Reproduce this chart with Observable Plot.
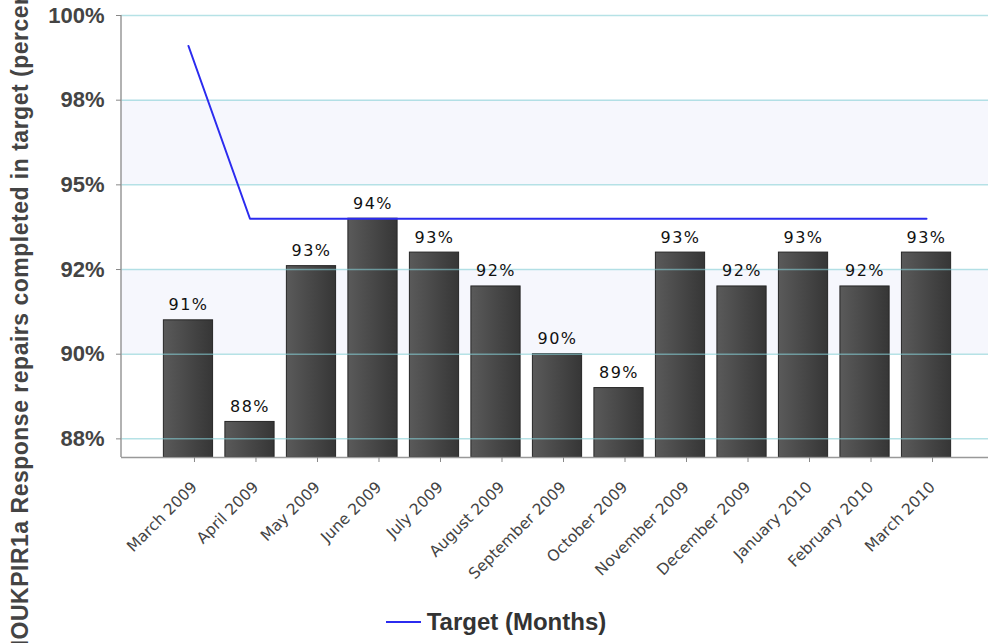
<!DOCTYPE html>
<html>
<head>
<meta charset="utf-8">
<script src="https://cdn.jsdelivr.net/npm/d3@7"></script>
<script src="https://cdn.jsdelivr.net/npm/@observablehq/plot@0.6"></script>
<style>
  html, body { margin: 0; padding: 0; background: #fff; overflow: hidden; }
  #chart svg { overflow: visible; }
  .legend {
    display: flex; align-items: center; justify-content: center;
    height: 43px; padding-left: 4px;
    font: bold 24px "Liberation Sans", Arial, sans-serif; color: #333;
  }
  .legend .swatch { width: 35px; height: 0; border-top: 2px solid #2b2bef; margin-right: 6px; }
</style>
</head>
<body>
<div id="chart"></div>
<script>
// Monthly response repairs completed within target, March 2009 – March 2010
const months = [
  "March 2009", "April 2009", "May 2009", "June 2009", "July 2009",
  "August 2009", "September 2009", "October 2009", "November 2009",
  "December 2009", "January 2010", "February 2010", "March 2010"
];
const responsePct = [91, 88, 92.6, 94, 93, 92, 90, 89, 93, 92, 93, 92, 93];
const targetPct = [99.1, 94, 94, 94, 94, 94, 94, 94, 94, 94, 94, 94, 94];

const yTicks = [87.5, 90, 92.5, 95, 97.5, 100];
const yTickLabels = ["88%", "90%", "92%", "95%", "98%", "100%"];
const yDomain = [86.95, 100];
const shadedBands = [[90, 92.5], [95, 97.5]];

const yTitle = "HOUKPIR1a Response repairs completed in target (percent)";
const legendLabel = "Target (Months)";

const rows = months.map((month, i) => ({month, pct: responsePct[i], target: targetPct[i]}));

// horizontal shading for the bars
function barShadeDefs() {
  const defs = d3.create("svg:defs");
  const g = defs.append("linearGradient")
    .attr("id", "barShade").attr("x1", "0").attr("x2", "1").attr("y1", "0").attr("y2", "0");
  g.append("stop").attr("offset", "0%").attr("stop-color", "#5a5a5a");
  g.append("stop").attr("offset", "100%").attr("stop-color", "#363636");
  return defs.node();
}

// vertical axis line along the left edge of the frame
function leftAxisLine(index, scales, values, dims) {
  return d3.create("svg:line")
    .attr("x1", dims.marginLeft).attr("x2", dims.marginLeft)
    .attr("y1", dims.marginTop).attr("y2", dims.height - dims.marginBottom)
    .attr("stroke", "#999").attr("stroke-width", 1.5)
    .node();
}

const chart = Plot.plot({
  width: 988,
  height: 600,
  marginLeft: 121,
  marginRight: 0,
  marginTop: 15,
  marginBottom: 143,
  style: {background: "transparent", overflow: "visible"},
  x: {domain: months, range: [121, 993], paddingInner: 0.2, paddingOuter: 0.689, round: false, axis: null},
  y: {domain: yDomain, axis: null},
  marks: [
    barShadeDefs,
    Plot.rect(shadedBands, {y1: d => d[0], y2: d => d[1], fill: "#f6f7fd"}),
    Plot.barY(rows, {x: "month", y1: yDomain[0], y2: "pct", fill: "url(#barShade)", stroke: "#262626", strokeWidth: 1}),
    Plot.ruleY(yTicks, {stroke: "#86cfd6", strokeOpacity: 0.6, strokeWidth: 1.5}),
    Plot.text(rows, {
      x: "month", y: "pct", text: d => `${Math.round(d.pct)}%`,
      lineAnchor: "bottom", dy: -10, fontSize: 16, fontFamily: "DejaVu Sans", fill: "#111"
    }),
    Plot.line(rows, {x: "month", y: "target", stroke: "#2b2bef", strokeWidth: 2}),
    Plot.ruleY([yDomain[0]], {stroke: "#999", strokeWidth: 1.5}),
    leftAxisLine,
    Plot.axisY(yTicks, {
      tickFormat: d => yTickLabels[yTicks.indexOf(d)],
      tickSize: 5, tickPadding: 12, fontSize: 22, fontWeight: "bold",
      fontFamily: "Liberation Sans", fill: "#444", stroke: "#888"
    }),
    Plot.axisX({
      label: null, tickRotate: -45, tickSize: 5, tickPadding: 22, dx: 6, fontSize: 15.5,
      fontFamily: "DejaVu Sans", fill: "#444", stroke: "#888"
    }),
    Plot.text([yTitle], {
      text: d => d, frameAnchor: "bottom-left", rotate: -90,
      textAnchor: "start", lineAnchor: "middle", dx: -101, dy: 199,
      fontSize: 23, fontWeight: "bold", fontFamily: "Liberation Sans", fill: "#444"
    })
  ]
});

const textGroups = d3.select(chart).selectAll('g[aria-label="text"]');
// widen the spacing of the value labels above the bars
textGroups.filter((d, i) => i === 0).attr("letter-spacing", "1.5");
// slightly looser spacing for the rotated axis title
textGroups.filter((d, i) => i === textGroups.size() - 1).attr("letter-spacing", "0.5");

document.getElementById("chart").appendChild(chart);

const legend = document.createElement("div");
legend.className = "legend";
legend.innerHTML = `<span class="swatch"></span><span></span>`;
legend.lastChild.textContent = legendLabel;
document.body.appendChild(legend);
</script>
</body>
</html>
